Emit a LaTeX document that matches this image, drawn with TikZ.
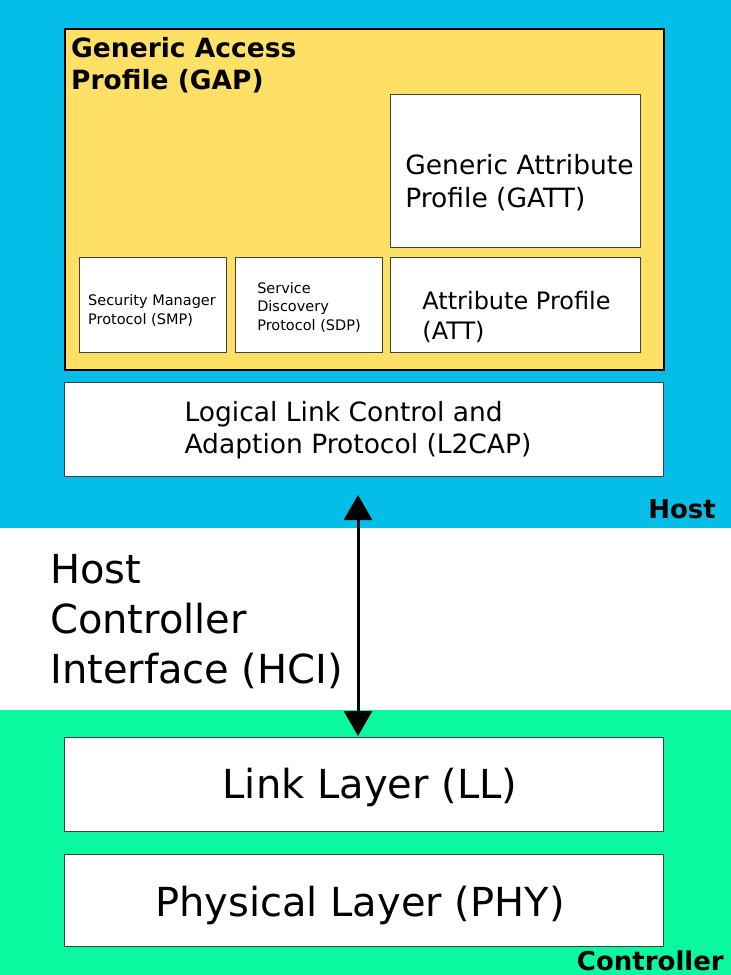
\documentclass[tikz,border=0pt]{standalone}
\usepackage{fontspec}
\setmainfont{DejaVu Sans}
\usetikzlibrary{arrows.meta}
\definecolor{hostblue}{RGB}{5,190,232}
\definecolor{ctrlgreen}{RGB}{10,248,160}
\definecolor{gapyellow}{RGB}{255,224,102}
\tikzset{
  layerbox/.style={draw=black!75, line width=1pt, fill=white, anchor=north west, inner sep=0pt},
  boxtext/.style={align=left, inner sep=0pt},
  sidelabel/.style={font=\bfseries\fontsize{26}{30}\selectfont, inner sep=0pt, anchor=base east}
}
\begin{document}
\begin{tikzpicture}[x=1pt, y=-1pt]
\useasboundingbox (0,0) rectangle (731,975);
% background bands
\fill[hostblue] (0,0) rectangle (731,528);
\fill[ctrlgreen] (0,710) rectangle (731,975);
\node[sidelabel] (host) at (716,518) {Host};
\node[sidelabel] (controller) at (724,970) {Controller};
% host stack
\node[draw=black, line width=2pt, fill=gapyellow, anchor=north west, inner sep=0pt, minimum width=599pt, minimum height=341pt] (gap) at (64,28) {};
\node[boxtext, anchor=base west, font=\bfseries\fontsize{26.5}{32}\selectfont] (gaptitle) at (71,89) {Generic Access\\Profile (GAP)};
\node[layerbox, minimum width=250pt, minimum height=153pt, label={[boxtext, xshift=4pt, yshift=-12pt, font=\fontsize{26.5}{33}\selectfont]center:{Generic Attribute\\Profile (GATT)}}] (gatt) at (390,94) {};
\node[layerbox, minimum width=147pt, minimum height=95pt, label={[boxtext, xshift=-1pt, yshift=-5pt, font=\fontsize{14.5}{19}\selectfont]center:{Security Manager\\Protocol (SMP)}}] (smp) at (79,257) {};
\node[layerbox, minimum width=147pt, minimum height=95pt, label={[boxtext, yshift=-2pt, font=\fontsize{14.5}{18.5}\selectfont]center:{Service\\Discovery\\Protocol (SDP)}}] (sdp) at (235,257) {};
\node[layerbox, minimum width=250pt, minimum height=95pt, label={[boxtext, xshift=1pt, yshift=-12pt, font=\fontsize{24}{30}\selectfont]center:{Attribute Profile\\(ATT)}}] (att) at (390,257) {};
\node[layerbox, minimum width=599pt, minimum height=94pt, label={[boxtext, xshift=-6pt, yshift=-1pt, font=\fontsize{26.5}{32}\selectfont]center:{Logical Link Control and\\Adaption Protocol (L2CAP)}}] (l2cap) at (64,382) {};
% controller stack
\node[layerbox, minimum width=599pt, minimum height=94pt, label={[boxtext, xshift=6pt, yshift=-3pt, font=\fontsize{40}{48}\selectfont]center:{Link Layer (LL)}}] (ll) at (64,737) {};
\node[layerbox, minimum width=599pt, minimum height=92pt, label={[boxtext, xshift=-4pt, yshift=-5pt, font=\fontsize{40}{48}\selectfont]center:{Physical Layer (PHY)}}] (phy) at (64,854) {};
% HCI
\node[boxtext, anchor=base west, font=\fontsize{40}{50}\selectfont] (hci) at (50,683) {Host\\Controller\\Interface (HCI)};
\coordinate (hcitop) at (358,495);
\coordinate (hcibot) at (358,736);
\draw[line width=3pt, {Triangle[width=28pt,length=25pt]}-{Triangle[width=28pt,length=25pt]}] (hcitop) -- (hcibot);
\end{tikzpicture}
\end{document}
